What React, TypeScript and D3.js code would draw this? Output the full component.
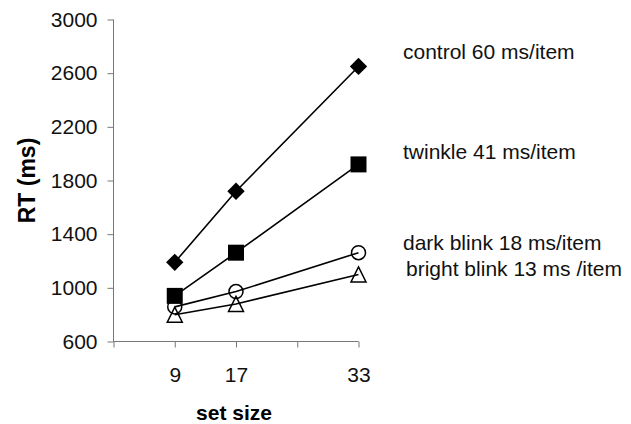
import React, { useEffect, useRef } from 'react';
import * as d3 from 'd3';

const setSizes = [9, 17, 33];
const xTicks = [1, 9, 17, 25, 33];
const xLabels = [9, 17, 33];
const yTicks = [600, 1000, 1400, 1800, 2200, 2600, 3000];

const control = [1190, 1720, 2650];
const twinkle = [940, 1262, 1920];
const darkBlink = [858, 972, 1262];
const brightBlink = [800, 880, 1100];

const seriesNames = ['control', 'twinkle', 'dark blink', 'bright blink'];
const legendLabels = [
  'control 60 ms/item',
  'twinkle 41 ms/item',
  'dark blink 18 ms/item',
  'bright blink 13 ms /item',
];

const FONT = 'Arial, "Liberation Sans", sans-serif';

export default function App() {
  const ref = useRef<SVGSVGElement>(null);

  useEffect(() => {
    const width = 631;
    const height = 424;
    const svg = d3.select(ref.current);
    svg.selectAll('*').remove();

    const x = d3.scaleLinear().domain([1, 33]).range([113.5, 358.5]);
    const y = d3.scaleLinear().domain([600, 3000]).range([341.5, 19.5]);

    svg.append('rect').attr('width', width).attr('height', height).attr('fill', '#fff');

    // y axis
    const yAxis = svg
      .append('g')
      .attr('transform', `translate(${x(1)},0)`)
      .call(d3.axisLeft(y).tickValues(yTicks).tickSize(6).tickPadding(10).tickFormat(d3.format('d')));
    yAxis.select('.domain').attr('stroke', '#777').attr('d', `M0,${y(3000)}V${y(600)}`);
    yAxis.selectAll('.tick line').attr('stroke', '#777');
    yAxis.selectAll('.tick text').attr('fill', '#111').style('font', `21px ${FONT}`);

    // x axis
    const xAxis = svg
      .append('g')
      .attr('transform', `translate(0,${y(600)})`)
      .call(
        d3
          .axisBottom(x)
          .tickValues(xTicks)
          .tickSize(6)
          .tickPadding(20)
          .tickFormat((d) => (xLabels.includes(d as number) ? String(d) : '')),
      );
    xAxis.select('.domain').attr('stroke', '#777').attr('d', `M${x(1)},0H${x(33)}`);
    xAxis.selectAll('.tick line').attr('stroke', '#777');
    xAxis.selectAll('.tick text').attr('fill', '#111').style('font', `21px ${FONT}`);

    // axis titles
    svg
      .append('text')
      .attr('transform', `translate(35,${y(1800)}) rotate(-90)`)
      .attr('text-anchor', 'middle')
      .style('font', `bold 23px ${FONT}`)
      .text('RT (ms)');
    svg
      .append('text')
      .attr('x', 234)
      .attr('y', 420)
      .attr('text-anchor', 'middle')
      .style('font', `bold 21px ${FONT}`)
      .text('set size');

    const allSeries = [control, twinkle, darkBlink, brightBlink];
    const line = d3
      .line<number>()
      .x((_, i) => x(setSizes[i]))
      .y((d) => y(d));

    allSeries.forEach((s) => {
      svg
        .append('path')
        .attr('d', line(s))
        .attr('fill', 'none')
        .attr('stroke', '#000')
        .attr('stroke-width', 1.6);
    });

    // markers
    const diamond = d3.symbol().type(d3.symbolSquare).size(150)();
    const square = d3.symbol().type(d3.symbolSquare).size(256)();
    const tri = 'M0,-7.5L7.5,7.5L-7.5,7.5Z';

    control.forEach((v, i) => {
      svg
        .append('path')
        .attr('d', diamond)
        .attr('transform', `translate(${x(setSizes[i])},${y(v)}) rotate(45)`)
        .attr('fill', '#000');
    });
    twinkle.forEach((v, i) => {
      svg
        .append('path')
        .attr('d', square)
        .attr('transform', `translate(${x(setSizes[i])},${y(v)})`)
        .attr('fill', '#000');
    });
    darkBlink.forEach((v, i) => {
      svg
        .append('circle')
        .attr('cx', x(setSizes[i]))
        .attr('cy', y(v))
        .attr('r', 7)
        .attr('fill', 'none')
        .attr('stroke', '#000')
        .attr('stroke-width', 1.5);
    });
    brightBlink.forEach((v, i) => {
      svg
        .append('path')
        .attr('d', tri)
        .attr('transform', `translate(${x(setSizes[i])},${y(v)})`)
        .attr('fill', 'none')
        .attr('stroke', '#000')
        .attr('stroke-width', 1.5);
    });

    // labels next to the lines
    const labelPos = [
      [403, 59],
      [403, 159],
      [403, 250],
      [406, 276],
    ];
    legendLabels.forEach((t, i) => {
      svg
        .append('text')
        .attr('class', seriesNames[i])
        .attr('x', labelPos[i][0])
        .attr('y', labelPos[i][1])
        .attr('fill', '#111')
        .style('font', `21px ${FONT}`)
        .text(t);
    });
  }, []);

  return (
    <svg
      ref={ref}
      width={631}
      height={424}
      style={{ position: 'absolute', left: 0, top: 0, display: 'block' }}
    />
  );
}
